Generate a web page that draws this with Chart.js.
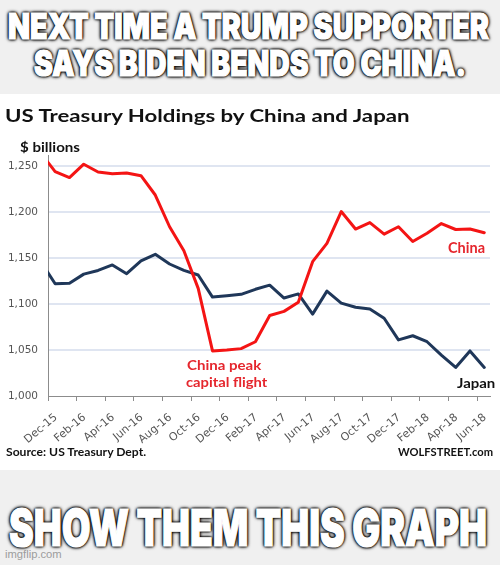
<!DOCTYPE html>
<html><head><meta charset="utf-8">
<script src="https://cdn.jsdelivr.net/npm/chart.js@4.4.1/dist/chart.umd.min.js"></script>
<style>
html,body{margin:0;padding:0;}
body{width:500px;height:565px;background:#f0f0f0;position:relative;overflow:hidden;}
#panel{position:absolute;left:0;top:94px;width:500px;height:376px;background:#fff;}
#box{position:absolute;left:0;top:94px;width:500px;height:376px;}
.t{position:absolute;white-space:nowrap;transform-origin:0 0;margin:0;padding:0;}
.meme{-webkit-text-stroke:1.2px #fff;text-shadow:0 0 2px #000,0 0 2px #000,0 0 3px #000,0 0 3px #000,0 0 4px #000,0 0 5px #000;}
</style></head><body>
<div id="panel"></div>
<div id="box"><canvas id="cv" width="500" height="376"></canvas></div>
<script>
// ---- data ----
const months = ['Nov-15','Dec-15','Jan-16','Feb-16','Mar-16','Apr-16','May-16','Jun-16','Jul-16','Aug-16','Sep-16','Oct-16','Nov-16','Dec-16','Jan-17','Feb-17','Mar-17','Apr-17','May-17','Jun-17','Jul-17','Aug-17','Sep-17','Oct-17','Nov-17','Dec-17','Jan-18','Feb-18','Mar-18','Apr-18','May-18','Jun-18'];
const china = [1264,1244,1237.5,1252,1243.5,1241.5,1242.5,1239.5,1218.5,1184,1158,1117,1049,1050,1051.5,1059,1087.5,1092,1102,1146,1166,1200.5,1181.5,1188.5,1176,1184,1168,1177,1187.5,1181,1181.5,1177.5];
const japan = [1146,1122,1122.5,1132.5,1136.5,1142.5,1133,1147,1154,1143.5,1136.5,1131.5,1107.5,1109,1110.5,1116,1120.5,1106.5,1111,1089,1114,1101,1096.5,1094.5,1084.5,1061,1065.5,1059,1044.5,1031,1049,1031];
const tickLabels = ['Dec-15','Feb-16','Apr-16','Jun-16','Aug-16','Oct-16','Dec-16','Feb-17','Apr-17','Jun-17','Aug-17','Oct-17','Dec-17','Feb-18','Apr-18','Jun-18'];
const yTicks = [1000,1050,1100,1150,1200,1250];

// axis position of each month: months counted from the start of Dec-15, observations plotted mid-month
const startMonth = months.indexOf('Dec-15');
const xOf = label => months.indexOf(label) - startMonth;
const pts = arr => arr.map((v,i)=>({x: i - startMonth + 0.5, y: v}));

new Chart(document.getElementById('cv'), {
  type: 'line',
  data: { datasets: [
    {label:'China', data: pts(china), borderColor:'#f41414', borderWidth:3, pointRadius:0, tension:0, clip:0, borderJoinStyle:'round', borderCapStyle:'round'},
    {label:'Japan', data: pts(japan), borderColor:'#1f3759', borderWidth:3, pointRadius:0, tension:0, clip:0, borderJoinStyle:'round', borderCapStyle:'round'}
  ]},
  options: {
    responsive:false, animation:false, devicePixelRatio:1,
    layout:{padding:{top:61,right:10,left:0,bottom:0}},
    plugins:{legend:{display:false}, tooltip:{enabled:false}, title:{display:false}},
    scales:{
      x:{ type:'linear', min:0, max:30.9,
        afterBuildTicks: s => { s.ticks = tickLabels.map(l => ({value: xOf(l)})); },
        afterFit: s => { s.height = 74; },
        grid:{drawOnChartArea:false, drawTicks:true, tickLength:5, color:'#8c8c8c'},
        border:{color:'#8c8c8c', width:1},
        ticks:{ autoSkip:false, minRotation:40, maxRotation:40, padding:10, labelOffset:8, color:'#555',
          font:{family:'DejaVu Sans', size:11},
          callback: v => months[v + startMonth] }
      },
      y:{ min:1000, max:1262,
        afterBuildTicks: s => { s.ticks = yTicks.map(v => ({value:v})); },
        afterFit: s => { s.width = 48; },
        grid:{drawTicks:false, lineWidth:2, color: c => c.tick && c.tick.value === 1000 ? 'rgba(0,0,0,0)' : '#dfe5f1'},
        border:{color:'#8c8c8c', width:1},
        ticks:{ padding:10, color:'#555', font:{family:'DejaVu Sans', size:10.5},
          callback: v => v.toLocaleString('en-US') }
      }
    }
  }
});

// ---- text placement ----
const mctx = document.createElement('canvas').getContext('2d');
function place(txt, o){
  const fam = o.family || 'Lato';
  const wt = o.weight || 'bold';
  mctx.font = `${wt} 100px ${fam}`;
  const capR = mctx.measureText('H').actualBoundingBoxAscent / 100;
  const size = o.size || (o.capH / capR);
  const font = `${wt} ${size}px ${fam}`;
  mctx.font = font;
  const m = mctx.measureText(txt);
  const asc = m.fontBoundingBoxAscent, desc = m.fontBoundingBoxDescent;
  const el = document.createElement('div');
  el.className = 't' + (o.cls ? ' ' + o.cls : '');
  el.textContent = txt;
  el.style.font = font;
  el.style.lineHeight = (asc + desc) + 'px';
  el.style.color = o.color || '#111';
  const sx = o.w ? o.w / m.width : 1;
  el.style.left = o.x + 'px';
  el.style.top = (o.baseline - asc) + 'px';
  el.style.transform = `scaleX(${sx})`;
  document.body.appendChild(el);
}
const memeFont = 'Inter';
place('NEXT TIME A TRUMP SUPPORTER', {x:8, w:481, baseline:39, capH:25.5, family:memeFont, weight:900, color:'#fff', cls:'meme'});
place('SAYS BIDEN BENDS TO CHINA.', {x:34, w:432, baseline:76, capH:25.5, family:memeFont, weight:900, color:'#fff', cls:'meme'});
place('SHOW THEM THIS GRAPH', {x:9, w:478, baseline:546.2, capH:37.5, family:memeFont, weight:900, color:'#fff', cls:'meme'});

place('US Treasury Holdings by China and Japan', {x:5, w:407, baseline:122, capH:13});
place('$ billions', {x:20, w:60, baseline:151.7, capH:9.8});
place('China', {x:448, w:37, baseline:252.7, capH:10.5, color:'#e5262d'});
place('Japan', {x:456.7, w:38.3, baseline:387.5, capH:9.8});
place('China peak', {x:186.7, w:74.3, baseline:370.3, capH:9.8, color:'#e5262d'});
place('capital flight', {x:186, w:81.3, baseline:386.7, capH:9.8, color:'#e5262d'});
place('Source: US Treasury Dept.', {x:6, w:140.7, baseline:455.7, capH:8.8});
place('WOLFSTREET.com', {x:397.7, w:95, baseline:456, capH:8.8});
place('imgflip.com', {x:5, w:56.7, baseline:558.3, size:11, family:'Liberation Sans', weight:'normal', color:'#9c9c9c'});
</script>
</body></html>
